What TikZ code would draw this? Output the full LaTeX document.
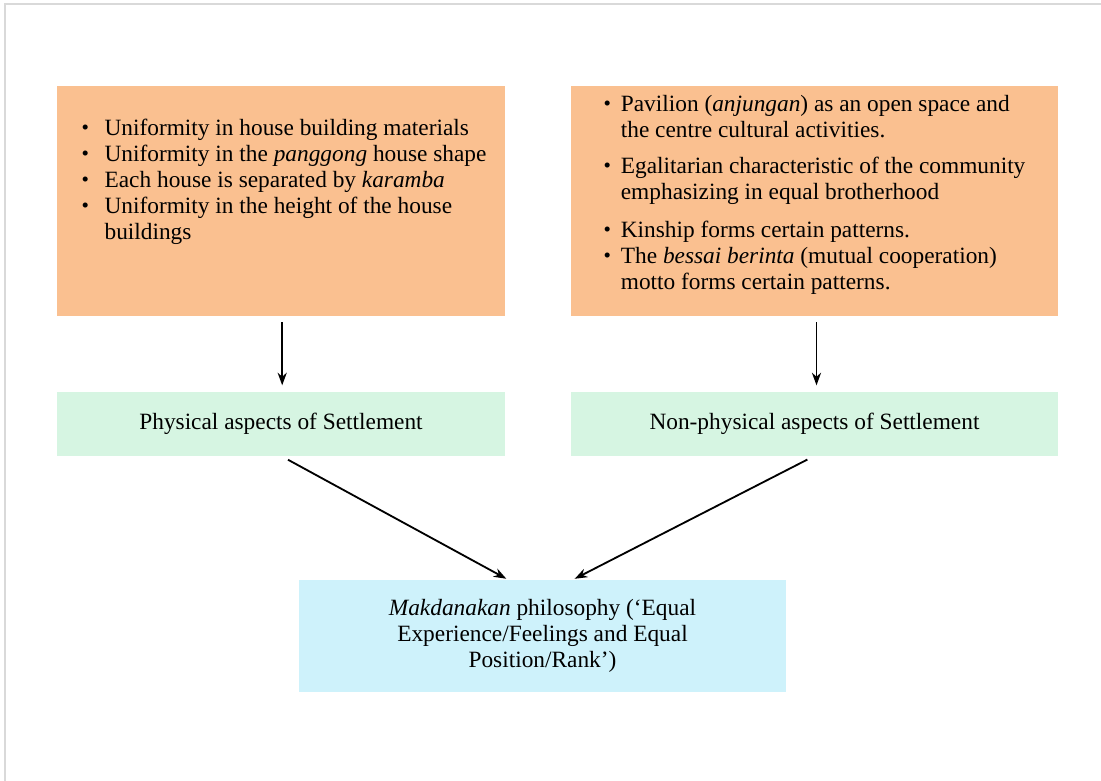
\documentclass[tikz,border=0pt]{standalone}
\usepackage{fontspec}
\setmainfont{Liberation Serif}
\usepackage{tikz}
\usetikzlibrary{positioning,arrows.meta}
\definecolor{boxorange}{RGB}{250,192,144}
\definecolor{boxgreen}{RGB}{214,245,226}
\definecolor{boxblue}{RGB}{206,242,251}
\definecolor{framegray}{RGB}{217,217,217}
\newcommand{\blt}[1][0pt]{\hspace*{#1}\makebox[0.43cm][l]{\raisebox{0.05ex}{\fontsize{15}{15}\selectfont •}}}
\newcommand{\cnt}[1][0pt]{\hspace*{#1}\hspace*{0.43cm}}

\begin{document}
\begin{tikzpicture}[%
    x=0.025cm, y=-0.025cm,
    >={Stealth[length=9pt,width=6.5pt]},
    node distance=1.875cm,
    font=\fontsize{16.6}{18.5}\selectfont,
    orangebox/.style={fill=boxorange, minimum height=5.75cm, align=left, inner sep=0pt},
    greenbox/.style={fill=boxgreen, minimum height=1.6cm, align=center, inner sep=0pt},
    bluebox/.style={fill=boxblue, minimum width=12.175cm, minimum height=2.8cm, align=center, inner sep=0pt},
    link/.style={->, line width=1.3pt}
  ]
    \useasboundingbox (0,0) rectangle (1101,781);
    \draw[framegray, line width=1.5pt] (5,781) -- (5,4) -- (1101,4);

    \node[orangebox, minimum width=11.2cm] (oA) at (281,201)
      {\blt[0.15cm] Uniformity in house building materials\\
       \blt[0.15cm] Uniformity in the \textit{panggong} house shape\\
       \blt[0.15cm] Each house is separated by \textit{karamba}\\
       \blt[0.15cm] Uniformity in the height of the house\\
       \cnt[0.15cm] buildings\\[0.45cm]};

    \node[orangebox, minimum width=12.175cm] (oB) at (814.5,201)
      {\blt Pavilion (\textit{anjungan}) as an open space and\\
       \cnt the centre cultural activities.\\[0.25cm]
       \blt Egalitarian characteristic of the community\\
       \cnt emphasizing in equal brotherhood\\[0.3cm]
       \blt Kinship forms certain patterns.\\
       \blt The \textit{bessai berinta} (mutual cooperation)\\
       \cnt motto forms certain patterns.\\[-0.2cm]};

    \node[greenbox, minimum width=11.2cm, below=of oA] (gA) {Physical aspects of Settlement};
    \node[greenbox, minimum width=12.175cm, below=of oB] (gB) {Non-physical aspects of Settlement};

    \node[bluebox] (bl) at (542.5,636)
      {\textit{Makdanakan} philosophy (‘Equal\\
       Experience/Feelings and Equal\\
       Position/Rank’)};

    \coordinate (inA) at ([xshift=-0.86cm]bl.north);
    \coordinate (inB) at ([xshift=0.76cm]bl.north);

    \draw[link, shorten <=0.15cm, shorten >=0.15cm] ([xshift=0.03cm]oA.south) -- ([xshift=0.03cm]gA.north);
    \draw[link, shorten <=0.15cm, shorten >=0.15cm] ([xshift=0.05cm]oB.south) -- ([xshift=0.05cm]gB.north);
    \draw[link, shorten <=0.2cm, shorten >=0.05cm] (gA.south) -- (inA);
    \draw[link, shorten <=0.2cm, shorten >=0.05cm] (gB.south) -- (inB);
  \end{tikzpicture}
\end{document}
